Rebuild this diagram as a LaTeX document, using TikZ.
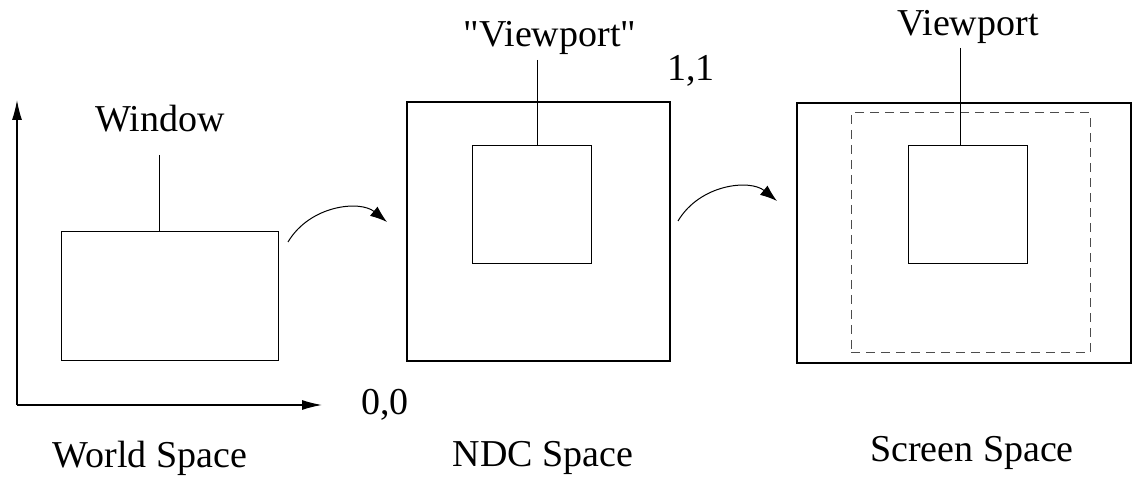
\documentclass[tikz,border=0pt]{standalone}
\usepackage{fontspec}
\setmainfont{Liberation Serif}
\newfontfamily\plainserif{Liberation Serif}[Ligatures=Common]
\usetikzlibrary{arrows.meta}
\begin{document}
\begin{tikzpicture}[x=0.5pt,y=-0.5pt,
  outerbox/.style={draw,line width=1pt,inner sep=0pt},
  innerbox/.style={draw,line width=0.5pt,inner sep=0pt},
  dashbox/.style={draw=black!70,line width=0.5pt,inner sep=0pt,dash pattern=on 4.5pt off 3pt},
  lbl/.style={anchor=base,inner sep=0pt,font=\fontsize{19pt}{22pt}\selectfont},
  leader/.style={line width=0.5pt},
  axis/.style={line width=0.6pt,-{Latex[length=10pt,width=5pt]}},
  maparrow/.style={line width=0.5pt,-{Latex[length=8.5pt,width=6pt]}}]
\useasboundingbox (0,0) rectangle (1132,480);
% world space
\coordinate (o) at (17,405);
\coordinate (ytip) at (17,100);
\coordinate (xtip) at (322,405);
\draw[axis] (o) -- (ytip);
\draw[axis] (o) -- (xtip);
\node[innerbox,minimum width=108.5pt,minimum height=64.5pt] (window) at (169.5,296.5) {};
\node[lbl] (wlbl) at (160,132) {Window};
\coordinate (wtop) at (159,155);
\draw[leader] (wtop) -- (wtop |- window.north);
\node[lbl] (zero) at (385,415) {0,0};
\node[lbl] (world) at (150,468) {World Space};
% ndc space
\node[outerbox,minimum width=131.5pt,minimum height=129.5pt] (ndc) at (538.5,231.5) {};
\node[innerbox,minimum width=59.5pt,minimum height=59pt] (ndcvp) at (531.5,205) {};
\node[lbl] (ndcvplbl) at (550,47) {\plainserif "Viewport"};
\coordinate (ntop) at (537,60);
\draw[leader] (ntop) -- (ntop |- ndcvp.north);
\node[lbl] (one) at (691,81) {1,1};
\node[lbl] (ndclbl) at (543,467) {NDC Space};
% screen space
\node[outerbox,minimum width=167pt,minimum height=130pt] (screen) at (964,233) {};
\node[dashbox,minimum width=119.5pt,minimum height=120pt] (sdash) at (970.5,233) {};
\node[innerbox,minimum width=59.5pt,minimum height=59pt] (svp) at (967.5,205) {};
\node[lbl] (svplbl) at (968,36) {Viewport};
\coordinate (stop) at (960,48);
\draw[leader] (stop) -- (stop |- svp.north);
\node[lbl] (slbl) at (972,462) {Screen Space};
% transforms
\coordinate (a1s) at (288,242);
\coordinate (a1e) at (387,222);
\coordinate (a2s) at (678,221);
\coordinate (a2e) at (777,201);
\draw[maparrow] (a1s) .. controls (310,205) and (360,200) .. (a1e);
\draw[maparrow] (a2s) .. controls (700,184) and (750,179) .. (a2e);
\end{tikzpicture}
\end{document}
